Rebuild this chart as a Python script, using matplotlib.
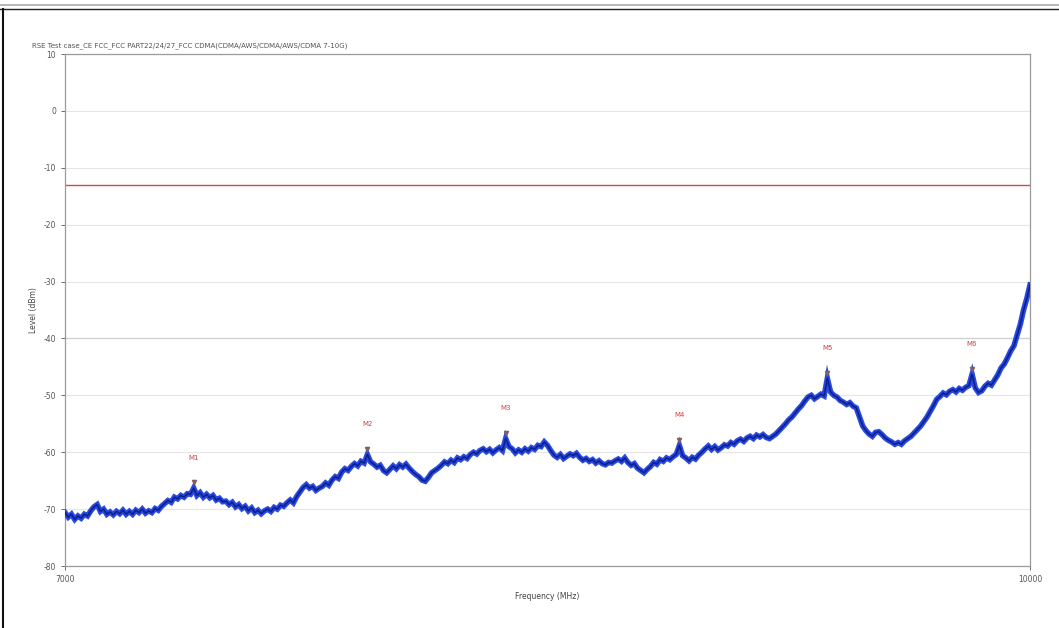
import matplotlib.pyplot as plt
from matplotlib.lines import Line2D
import numpy as np

plt.rcParams['axes.unicode_minus'] = False

# trace, 10 MHz steps from 7000 to 10000 MHz
freq_start = 7000
freq_step = 10
level = [
    -70.6, -71.4, -70.9, -71.8, -71.2, -71.6, -70.9, -71.2, -70.3, -69.6,
    -69.2, -70.4, -70.0, -70.9, -70.5, -71.0, -70.4, -70.8, -70.2, -70.9,
    -70.4, -70.9, -70.2, -70.6, -70.0, -70.7, -70.3, -70.6, -69.9, -70.2,
    -69.5, -69.0, -68.5, -68.8, -67.9, -68.2, -67.6, -67.9, -67.3, -67.4,
    -66.3, -67.6, -67.1, -67.9, -67.4, -68.0, -67.6, -68.4, -68.1, -68.7,
    -68.6, -69.2, -68.8, -69.6, -69.2, -69.9, -69.5, -70.3, -69.8, -70.6,
    -70.2, -70.8, -70.3, -70.0, -70.4, -69.7, -70.0, -69.3, -69.5, -68.9,
    -68.4, -68.9, -67.8, -67.0, -66.2, -65.7, -66.3, -66.0, -66.7, -66.3,
    -66.0, -65.4, -65.8, -64.9, -64.3, -64.6, -63.5, -62.9, -63.2, -62.5,
    -62.0, -62.4, -61.6, -61.9, -60.4, -61.7, -62.1, -62.6, -62.3, -63.2,
    -63.6, -63.0, -62.4, -62.9, -62.2, -62.6, -62.1, -62.8, -63.4, -63.9,
    -64.3, -64.9, -65.1, -64.4, -63.6, -63.2, -62.8, -62.3, -61.7, -62.0,
    -61.4, -61.8, -61.0, -61.3, -60.8, -61.1, -60.4, -60.0, -60.3, -59.7,
    -59.4, -59.9, -59.5, -60.1, -59.6, -59.2, -59.7, -57.6, -59.0, -59.4,
    -60.1, -59.6, -60.0, -59.4, -59.8, -59.2, -59.5, -58.8, -59.0, -58.2,
    -58.8, -59.7, -60.5, -60.9, -60.4, -61.1, -60.7, -60.3, -60.6, -60.2,
    -60.9, -61.4, -61.1, -61.6, -61.3, -61.9, -61.5, -62.0, -62.2, -61.8,
    -61.9, -61.5, -61.2, -61.6, -61.0, -61.8, -62.3, -62.0, -62.8, -63.2,
    -63.6, -63.0, -62.5, -61.8, -62.1, -61.3, -61.6, -61.0, -61.3, -60.8,
    -60.4, -58.8, -60.6, -61.0, -61.5, -60.9, -61.2, -60.5, -60.0, -59.4,
    -58.9, -59.5, -59.0, -59.6, -59.2, -58.7, -58.9, -58.3, -58.6, -58.0,
    -57.7, -58.1, -57.5, -57.2, -57.6, -57.0, -57.3, -56.9, -57.4, -57.6,
    -57.2, -56.8, -56.2, -55.6, -55.0, -54.3, -53.8, -53.1, -52.4, -51.8,
    -51.0, -50.3, -50.0, -50.6, -50.2, -49.8, -50.1, -47.0, -49.4, -50.0,
    -50.3, -50.9, -51.2, -51.6, -51.3, -51.9, -52.2, -53.8, -55.4, -56.2,
    -56.8, -57.2, -56.5, -56.4, -56.9, -57.5, -57.9, -58.2, -58.6, -58.3,
    -58.6, -58.0, -57.6, -57.2, -56.6, -56.0, -55.4, -54.6, -53.8, -52.8,
    -51.8, -50.7, -50.2, -49.6, -49.9, -49.3, -49.0, -49.4, -48.8, -49.1,
    -48.6, -48.3, -46.3, -48.7, -49.5, -49.2, -48.4, -47.9, -48.2, -47.3,
    -46.4, -45.2, -44.5, -43.4, -42.2, -41.3, -39.4, -37.5, -35.0, -33.0,
    -30.6,
]
freq = freq_start + freq_step * np.arange(len(level))

limit_level = -13

marker_names = ['M1', 'M2', 'M3', 'M4', 'M5', 'M6']
marker_freq = [7400, 7940, 8370, 8910, 9370, 9820]
marker_level = [-66.3, -60.4, -57.6, -58.8, -47.0, -46.3]

title = 'RSE Test case_CE FCC_FCC PART22/24/27_FCC CDMA(CDMA/AWS/CDMA/AWS/CDMA 7-10G)'

fig = plt.figure(figsize=(10.59, 6.28), dpi=100)
ax = fig.add_axes([0.0614, 0.0987, 0.9112, 0.8153])

# thick blue band with a darker core, like the noisy analyser trace
ax.plot(freq, level, color='#2a4ae0', lw=4.0, zorder=3, solid_joinstyle='miter')
ax.plot(freq, level, color='#1530b8', lw=1.6, zorder=4)
ax.plot(freq, level, color='#0a1870', lw=0.5, zorder=4)
ax.axhline(limit_level, color='#d84848', lw=1.0, zorder=2)

for name, f, l in zip(marker_names, marker_freq, marker_level):
    ax.plot(f, l + 1.0, marker='v', ms=3, color='#806060', zorder=5)
    ax.text(f, l + 5.3, name, color='#d04040', fontsize=5, ha='center', va='center')

ax.set_xlim(7000, 10000)
ax.set_ylim(-80, 10)
ax.set_xticks([7000, 10000])
ax.set_yticks(range(-80, 11, 10))
ax.tick_params(labelsize=5.5, colors='#555555', length=3, width=0.6)
ax.grid(axis='y', color='#e6e6e6', lw=0.8)
ax.axhline(-40, color='#d0d0d0', lw=0.9, zorder=1)
ax.set_axisbelow(True)
for s in ax.spines.values():
    s.set_color('#9a9a9a')
    s.set_linewidth(0.9)

ax.set_xlabel('Frequency (MHz)', fontsize=5.5, color='#444444', labelpad=6)
ax.set_ylabel('Level (dBm)', fontsize=5.5, color='#444444', labelpad=4)
fig.text(0.030, 0.927, title, fontsize=5, color='#555555', ha='left', va='center')

# window borders from the screenshot
fig.add_artist(Line2D([0, 1], [0.992, 0.992], color='#aaaaaa', lw=1.2))
fig.add_artist(Line2D([0, 1], [0.986, 0.986], color='#222222', lw=1.0))
fig.add_artist(Line2D([0.003, 0.003], [0, 0.986], color='#111111', lw=1.5))

fig.savefig('out.png', dpi=100)
